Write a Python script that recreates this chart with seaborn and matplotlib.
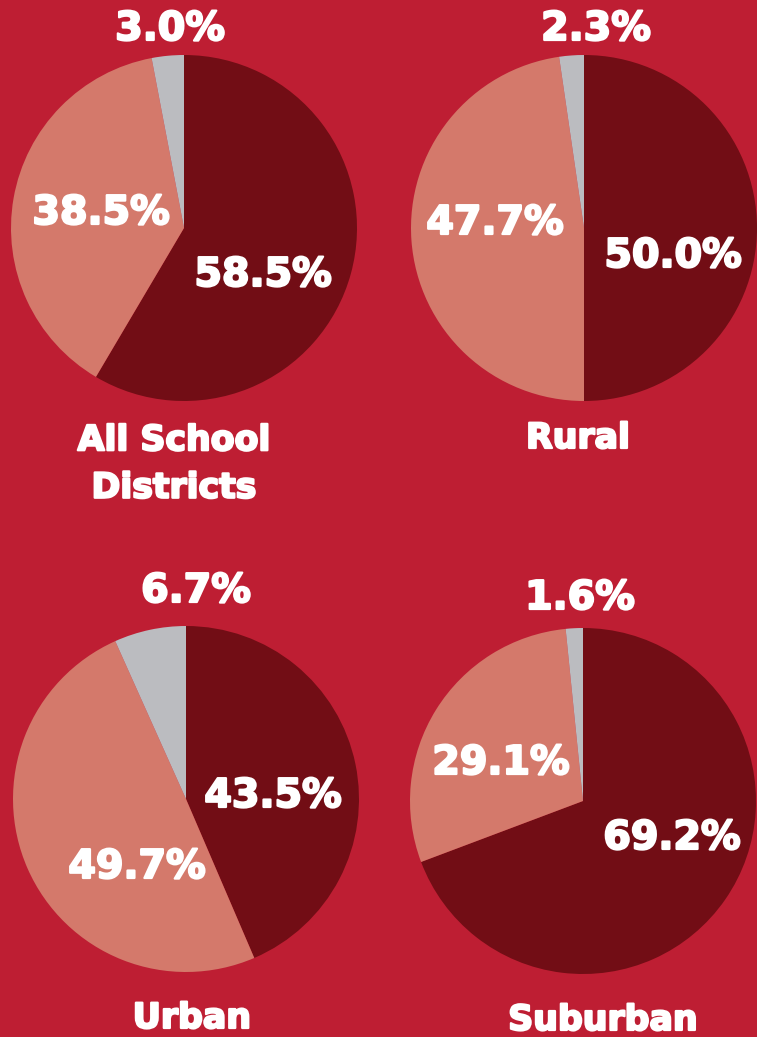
import numpy as np
import pandas as pd
import matplotlib
matplotlib.use('Agg')
import matplotlib.pyplot as plt
import matplotlib.patheffects as pe
import seaborn as sns

# data: share of each slice, clockwise from 12 o'clock
groups = ['All School\nDistricts', 'Rural', 'Urban', 'Suburban']
dark_share = [58.5, 50.0, 43.5, 69.2]
light_share = [38.5, 47.7, 49.7, 29.1]
gray_share = [3.0, 2.3, 6.7, 1.6]

# colors
bg = '#BE1E33'
colors = ['#720D15', '#D4796B', '#BBBCC0']

sns.set_theme(style='white')
plt.rcParams['font.family'] = ['DejaVu Sans']

W, H = 757, 1037
fig = plt.figure(figsize=(W / 100, H / 100), dpi=100, facecolor=bg)

# pie centre (px), radius (px)
centres = [(184, 228), (584, 228), (186, 799), (583, 801)]
R = 173
# label positions in pixels: (dark, light, gray), title
label_pos = [
    [(263, 275), (101, 213), (170, 29)],
    [(673, 256), (495, 223), (596, 29)],
    [(273, 796), (137, 867), (196, 591)],
    [(672, 838), (501, 763), (580, 598)],
]
title_pos = [(174, 464), (578, 438), (192, 1018), (603, 1020)]

# thicken the white glyphs a little (reference font is heavier)
heavy = [pe.withStroke(linewidth=1.6, foreground='white')]

df = pd.DataFrame({'group': groups, 'dark': dark_share,
                   'light': light_share, 'gray': gray_share})

for i, row in df.iterrows():
    cx, cy = centres[i]
    ax = fig.add_axes([(cx - R) / W, 1 - (cy + R) / H, 2 * R / W, 2 * R / H])
    vals = [row['dark'], row['light'], row['gray']]
    ax.pie(vals, colors=colors, startangle=90, counterclock=False,
           wedgeprops=dict(linewidth=0))
    ax.set_xlim(-1, 1)
    ax.set_ylim(-1, 1)
    ax.set_aspect('equal')
    ax.axis('off')
    for v, (px, py) in zip(vals, label_pos[i]):
        fig.text(px / W, 1 - py / H, f'{v:.1f}%', color='white',
                 fontsize=28.5, fontweight='bold', ha='center', va='center',
                 path_effects=heavy)
    tx, ty = title_pos[i]
    fig.text(tx / W, 1 - ty / H, row['group'], color='white',
             fontsize=25, fontweight='bold', ha='center', va='center',
             linespacing=1.5, path_effects=heavy)

plt.savefig('out.png', dpi=100, facecolor=bg)
